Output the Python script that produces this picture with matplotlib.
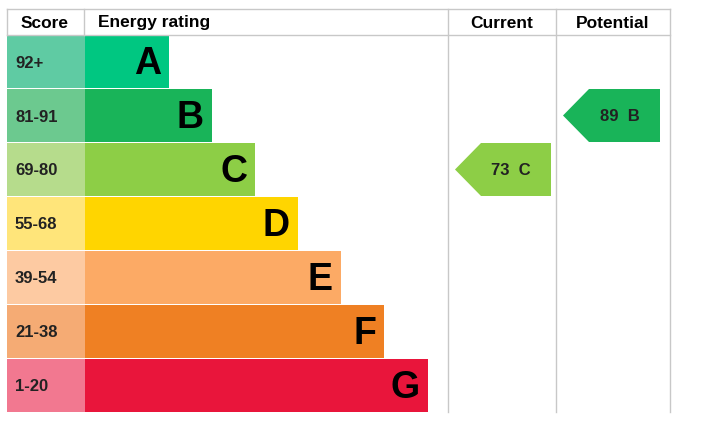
import matplotlib
matplotlib.use("Agg")
import matplotlib.pyplot as plt
from matplotlib.patches import Rectangle, Polygon

bands = ["A", "B", "C", "D", "E", "F", "G"]
scores = ["92+", "81-91", "69-80", "55-68", "39-54", "21-38", "1-20"]
band_colors = ["#00c781", "#19b459", "#8dce46", "#ffd500", "#fcaa65", "#ef8023", "#e9153b"]
score_colors = ["#5fcba3", "#6cc98f", "#b6dc8c", "#ffe57a", "#fdcaa2", "#f5ab74", "#f27890"]
bar_ends = [169, 212, 255, 298, 341, 384, 428]
current_value, current_band = 73, "C"
potential_value, potential_band = 89, "B"

plt.rcParams['font.family'] = ['Liberation Sans', 'DejaVu Sans']
fig = plt.figure(figsize=(7.12, 4.35), dpi=100)
ax = fig.add_axes([0, 0, 1, 1])
ax.set_xlim(0, 712); ax.set_ylim(435, 0); ax.axis("off")

top, head, rowh = 10, 36, 54
bottom = head + rowh * 7 - 1
lc = "#c8c8c8"
ax.plot([7, 670], [top, top], color=lc, lw=1)
ax.plot([7, 670], [head, head], color=lc, lw=1)
for x in [7, 84, 448, 556, 670]:
    ax.plot([x, x], [top, bottom if x in (448, 556, 670) else head], color=lc, lw=1)

ax.text(45, 23, "Score", ha="center", va="center", fontsize=12.5, fontweight="bold")
ax.text(98, 23, "Energy rating", ha="left", va="center", fontsize=12.5, fontweight="bold")
ax.text(502, 23, "Current", ha="center", va="center", fontsize=12.5, fontweight="bold")
ax.text(613, 23, "Potential", ha="center", va="center", fontsize=12.5, fontweight="bold")

for i, b in enumerate(bands):
    y0 = head + i * rowh
    ax.add_patch(Rectangle((7, y0), 78, rowh - 1, color=score_colors[i], lw=0))
    ax.add_patch(Rectangle((85, y0), bar_ends[i] - 85, rowh - 1, color=band_colors[i], lw=0))
    ax.text(15, y0 + rowh / 2, scores[i], ha="left", va="center", fontsize=12, fontweight="bold", color="#222")
    ax.text(bar_ends[i] - 8, y0 + rowh / 2 + 1, b, ha="right", va="center", fontsize=27, fontweight="bold", color="black")

def arrow(x0, x1, band, value):
    i = bands.index(band)
    y0 = head + i * rowh; y1 = y0 + rowh - 1; ym = (y0 + y1) / 2
    pts = [(x0, ym), (x0 + 26, y0), (x1, y0), (x1, y1), (x0 + 26, y1)]
    ax.add_patch(Polygon(pts, closed=True, color=band_colors[i], lw=0))
    ax.text((x0 + x1) / 2 + 8, ym, f"{value}  {band}", ha="center", va="center", fontsize=12, fontweight="bold", color="#222")

arrow(455, 551, current_band, current_value)
arrow(563, 660, potential_band, potential_value)

fig.savefig("out.png", dpi=100)
